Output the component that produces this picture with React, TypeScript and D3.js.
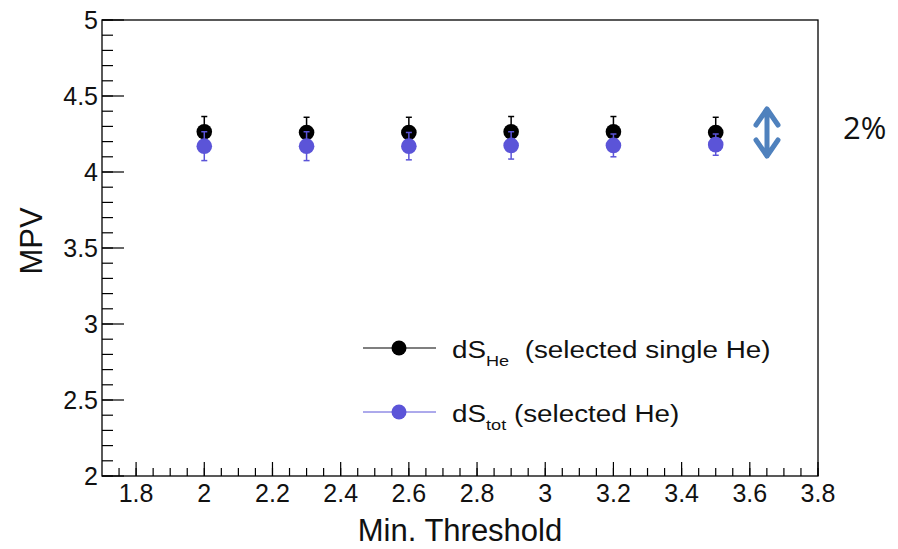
import React from "react";
import * as d3 from "d3";

const thresholds = [2.0, 2.3, 2.6, 2.9, 3.2, 3.5];
const mpvHe = [4.265, 4.26, 4.26, 4.265, 4.265, 4.26];
const errHe = [0.1, 0.1, 0.1, 0.1, 0.1, 0.1];
const mpvTot = [4.17, 4.17, 4.17, 4.175, 4.175, 4.18];
const errTot = [0.095, 0.095, 0.09, 0.09, 0.075, 0.07];
const xTicks = [1.8, 2, 2.2, 2.4, 2.6, 2.8, 3, 3.2, 3.4, 3.6, 3.8];
const yTicks = [2, 2.5, 3, 3.5, 4, 4.5, 5];

const W = 898, H = 549;
const L = 102, R = 818, T = 20, B = 476;
const BLUE = "#5b54d8";
const FONT = "'Liberation Sans', Arial, sans-serif";

export default function App() {
  const x = d3.scaleLinear().domain([1.7, 3.8]).range([L, R]);
  const y = d3.scaleLinear().domain([2, 5]).range([B, T]);
  const xMinor = d3.range(1.75, 3.8001, 0.05).map((v) => +v.toFixed(2));
  const yMinor = d3.range(2, 5.0001, 0.1).map((v) => +v.toFixed(2));

  const series = [
    { vals: mpvHe, errs: errHe, color: "#000" },
    { vals: mpvTot, errs: errTot, color: BLUE },
  ];

  return (
    <svg width={W} height={H} style={{ position: "absolute", left: 0, top: 0, background: "#fff" }} fontFamily={FONT}>
      <rect x={0} y={0} width={W} height={H} fill="#fff" />
      {/* frame */}
      <rect x={L} y={T} width={R - L} height={B - T} fill="none" stroke="#000" strokeWidth={1.3} />
      {/* x ticks */}
      {xMinor.map((v, i) => (
        <line key={"xm" + i} x1={x(v)} x2={x(v)} y1={B} y2={B - 8} stroke="#000" strokeWidth={1.2} />
      ))}
      {xTicks.map((v, i) => (
        <g key={"xt" + i}>
          <line x1={x(v)} x2={x(v)} y1={B} y2={B - 14} stroke="#000" strokeWidth={1.2} />
          <text x={x(v)} y={502} textAnchor="middle" fontSize={25} fill="#111">{String(v)}</text>
        </g>
      ))}
      {/* y ticks */}
      {yMinor.map((v, i) => (
        <line key={"ym" + i} x1={L} x2={L + 11} y1={y(v)} y2={y(v)} stroke="#000" strokeWidth={1.2} />
      ))}
      {yTicks.map((v, i) => (
        <g key={"yt" + i}>
          <line x1={L} x2={L + 22} y1={y(v)} y2={y(v)} stroke="#000" strokeWidth={1.2} />
          <text x={98} y={y(v) + 9} textAnchor="end" fontSize={25} fill="#111">{String(v)}</text>
        </g>
      ))}
      {/* axis titles */}
      <text x={460} y={541} textAnchor="middle" fontSize={31} fill="#111">Min. Threshold</text>
      <text transform={`translate(42,241) rotate(-90)`} textAnchor="middle" fontSize={31} fill="#111">MPV</text>
      {/* data */}
      {series.map((s, si) => (
        <g key={"s" + si}>
          {thresholds.map((t, i) => (
            <g key={i}>
              <line x1={x(t)} x2={x(t)} y1={y(s.vals[i] - s.errs[i])} y2={y(s.vals[i] + s.errs[i])} stroke={s.color} strokeWidth={1.5} />
              <line x1={x(t) - 3} x2={x(t) + 3} y1={y(s.vals[i] + s.errs[i])} y2={y(s.vals[i] + s.errs[i])} stroke={s.color} strokeWidth={1.5} />
              <line x1={x(t) - 3} x2={x(t) + 3} y1={y(s.vals[i] - s.errs[i])} y2={y(s.vals[i] - s.errs[i])} stroke={s.color} strokeWidth={1.5} />
              <circle cx={x(t)} cy={y(s.vals[i])} r={7.8} fill={s.color} />
            </g>
          ))}
        </g>
      ))}
      {/* legend */}
      <line x1={363} x2={436} y1={348} y2={348} stroke="#000" strokeWidth={1.2} />
      <circle cx={399} cy={348} r={7.5} fill="#000" />
      <g transform="translate(452,358) scale(1.21,1)">
        <text x={0} y={0} fontSize={23} fill="#111">
          dS<tspan fontSize={15} dy={8}>He</tspan><tspan dy={-8}>{"\u00a0\u00a0(selected single He)"}</tspan>
        </text>
      </g>
      <line x1={363} x2={436} y1={412} y2={412} stroke={BLUE} strokeWidth={1} />
      <circle cx={399} cy={412} r={7.5} fill={BLUE} />
      <g transform="translate(452,422) scale(1.21,1)">
        <text x={0} y={0} fontSize={23} fill="#111">
          dS<tspan fontSize={15} dy={8}>tot</tspan><tspan dy={-8}>{"\u00a0(selected He)"}</tspan>
        </text>
      </g>
      {/* 2% arrow */}
      <path d="M756,125 L767,109 L778,125 M767,109 L767,156 M756,140 L767,156 L778,140" fill="none" stroke="#4f81bd" strokeWidth={5} strokeLinecap="round" strokeLinejoin="round" />
      <text x={843} y={139} fontSize={31} fill="#111" fontFamily="'Open Sans', 'Liberation Sans', sans-serif">2%</text>
    </svg>
  );
}
